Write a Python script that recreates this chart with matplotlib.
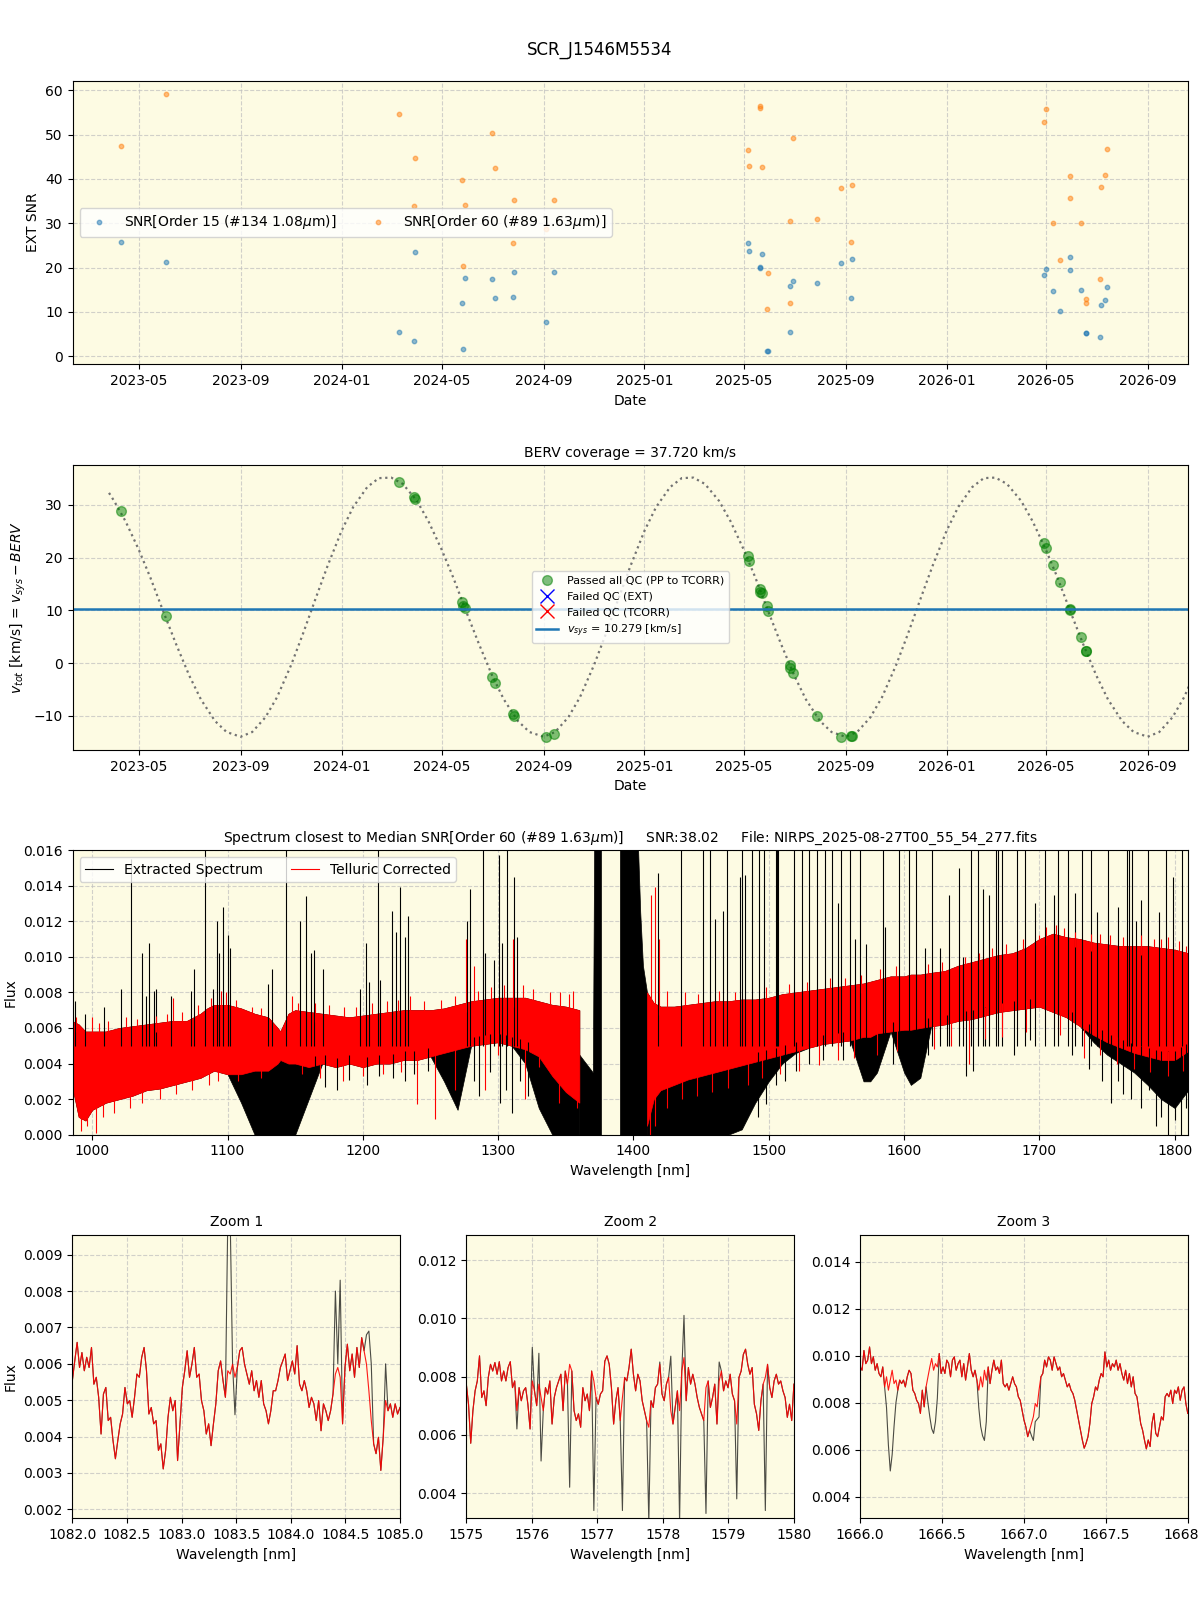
import numpy as np
import pandas as pd
import matplotlib
matplotlib.use('Agg')
import matplotlib.pyplot as plt
import matplotlib.dates as mdates
from matplotlib.ticker import MultipleLocator
from matplotlib.lines import Line2D

# ---- SNR panel ----
obs_dates = ['2023-04-09', '2023-06-03', '2024-03-10', '2024-03-29', '2024-03-30',
             '2024-05-25', '2024-05-27', '2024-05-29', '2024-07-01', '2024-07-04',
             '2024-07-26', '2024-07-27', '2024-09-04', '2024-09-14', '2025-05-06',
             '2025-05-07', '2025-05-20', '2025-05-21', '2025-05-23', '2025-05-29',
             '2025-05-30', '2025-06-26', '2025-06-26', '2025-06-30', '2025-07-28',
             '2025-08-27', '2025-09-08', '2025-09-09', '2026-04-29', '2026-05-01',
             '2026-05-09', '2026-05-18', '2026-05-30', '2026-05-30', '2026-06-13',
             '2026-06-19', '2026-06-19', '2026-07-05', '2026-07-07', '2026-07-12',
             '2026-07-14']
snr_order15 = [25.8, 21.3, 5.55, 3.3, 23.6, 11.9, 1.5, 17.7, 17.5, 13.2,
               13.4, 19.1, 7.6, 19.1, 25.6, 23.8, 20.0, 20.1, 23.1, 1.05,
               1.2, 5.55, 15.9, 17.0, 16.4, 21.1, 13.2, 22.0, 18.2, 19.7,
               14.6, 10.1, 22.4, 19.5, 15.0, 5.3, 5.1, 4.2, 11.6, 12.75,
               15.7]
snr_order60 = [47.4, 59.3, 54.6, 33.8, 44.7, 39.8, 20.4, 34.1, 50.3, 42.5,
               25.6, 35.3, 28.7, 35.3, 46.5, 42.9, 56.5, 56.0, 42.7, 10.7,
               18.8, 12.1, 30.5, 49.2, 31.0, 38.0, 25.8, 38.6, 52.8, 55.7,
               30.1, 21.8, 40.6, 35.7, 30.1, 12.8, 12.1, 17.3, 38.2, 40.9,
               46.7]

# ---- BERV panel ----
berv_dates = ['2023-04-09', '2023-06-03', '2024-03-10', '2024-03-29', '2024-03-30',
              '2024-05-25', '2024-05-27', '2024-05-29', '2024-07-01', '2024-07-04',
              '2024-07-26', '2024-07-27', '2024-09-04', '2024-09-14', '2025-05-06',
              '2025-05-07', '2025-05-20', '2025-05-21', '2025-05-23', '2025-05-29',
              '2025-05-30', '2025-06-26', '2025-06-26', '2025-06-30', '2025-07-28',
              '2025-08-27', '2025-09-08', '2025-09-09', '2026-04-29', '2026-05-01',
              '2026-05-09', '2026-05-18', '2026-05-30', '2026-05-30', '2026-06-13',
              '2026-06-19', '2026-06-19']
berv_vals = [28.9, 8.9, 34.4, 31.6, 31.2, 11.6, 10.8, 10.4, -2.6, -3.8,
             -9.7, -10.0, -14.05, -13.5, 20.3, 19.3, 14.0, 13.5, 13.2, 10.9,
             9.9, -0.3, -0.95, -1.9, -10.1, -14.05, -13.9, -13.8, 22.7, 21.8,
             18.6, 15.4, 10.3, 10.1, 4.9, 2.3, 2.2]
# curve read on the 1st/15th of each month (after a first point on 2023-03-26)
berv_curve = [32.3,
              30.8, 26.9, 21.5, 16.2, 9.2, 3.6, -2.4, -6.9, -11.0, -13.1, -14.0, -13.1,
              -10.3, -6.5, -0.4, 5.4, 12.4, 18.4,
              25.1, 29.6, 33.4, 35.1, 35.2, 34.0, 30.8, 26.9, 21.5, 16.2, 9.2, 3.6,
              -2.4, -6.9, -11.0, -13.1, -14.0, -13.1, -10.3, -6.5, -0.4, 5.4, 12.4, 18.4,
              25.1, 29.6, 33.4, 35.1, 35.2, 34.0, 30.8, 26.9, 21.5, 16.2, 9.2, 3.6,
              -2.4, -6.9, -11.0, -13.1, -14.0, -13.1, -10.3, -6.5, -0.4, 5.4, 12.4, 18.4,
              25.1, 29.6, 33.4, 35.1, 35.2, 34.0, 30.8, 26.9, 21.5, 16.2, 9.2, 3.6,
              -2.4, -6.9, -11.0, -13.1, -14.0, -13.1, -10.3, -6.5, -0.4]
v_sys = 10.279
berv_coverage = 37.720

# ---- full spectrum (envelopes) ----
wl_a = [985, 990, 995, 1000, 1010, 1020, 1030, 1040, 1050, 1060, 1070, 1080, 1085,
        1090, 1100, 1110, 1120, 1130, 1137, 1139, 1145, 1150, 1160, 1170, 1180, 1190,
        1200, 1210, 1220, 1230, 1240, 1250, 1260, 1270, 1280, 1290, 1300, 1310, 1320,
        1330, 1340, 1350, 1360]
red_hi_a = [0.0064, 0.0062, 0.0058, 0.0058, 0.0058, 0.0060, 0.0061, 0.0062, 0.0063,
            0.0064, 0.0064, 0.0068, 0.0071, 0.0073, 0.0073, 0.0071, 0.0068, 0.0066,
            0.0060, 0.0058, 0.0068, 0.0070, 0.0069, 0.0068, 0.0067, 0.0066, 0.0067,
            0.0068, 0.0069, 0.0070, 0.0070, 0.0070, 0.0071, 0.0073, 0.0075, 0.0076,
            0.0077, 0.0077, 0.0077, 0.0075, 0.0073, 0.0072, 0.0070]
red_lo_a = [0.0028, 0.0010, 0.0008, 0.0014, 0.0018, 0.0020, 0.0022, 0.0025, 0.0026,
            0.0028, 0.0030, 0.0032, 0.0034, 0.0036, 0.0034, 0.0034, 0.0036, 0.0036,
            0.0040, 0.0042, 0.0040, 0.0040, 0.0038, 0.0040, 0.0038, 0.0040, 0.0038,
            0.0040, 0.0040, 0.0042, 0.0042, 0.0044, 0.0046, 0.0048, 0.0050, 0.0051,
            0.0052, 0.0050, 0.0048, 0.0044, 0.0033, 0.0024, 0.0018]
blk_lo_a = [0.0028, 0.0010, 0.0008, 0.0014, 0.0018, 0.0020, 0.0022, 0.0025, 0.0026,
            0.0028, 0.0030, 0.0032, 0.0034, 0.0036, 0.0034, 0.0018, 0.0, 0.0,
            0.0, 0.0, 0.0, 0.0, 0.0020, 0.0040, 0.0038, 0.0040, 0.0038,
            0.0040, 0.0040, 0.0042, 0.0042, 0.0044, 0.0030, 0.0014, 0.0050, 0.0051,
            0.0052, 0.0050, 0.0040, 0.0015, 0.0, 0.0, 0.0]
wl_c = [1360, 1365, 1370, 1371, 1376]
blk_hi_c = [0.0045, 0.0040, 0.0035, 0.0170, 0.0170]
wl_d = [1390, 1403, 1405, 1407, 1410]
blk_hi_d = [0.0170, 0.0170, 0.0125, 0.0095, 0.0080]
wl_b = [1410, 1415, 1420, 1430, 1440, 1450, 1460, 1470, 1480, 1490, 1500, 1510, 1520,
        1530, 1540, 1550, 1560, 1570, 1575, 1580, 1590, 1600, 1605, 1612, 1620, 1630,
        1640, 1650, 1660, 1670, 1680, 1690, 1700, 1710, 1720, 1730, 1740, 1750, 1760,
        1770, 1780, 1790, 1800, 1810]
red_hi_b = [0.0080, 0.0074, 0.0072, 0.0072, 0.0073, 0.0074, 0.0075, 0.0075, 0.0076,
            0.0076, 0.0077, 0.0079, 0.0080, 0.0081, 0.0082, 0.0083, 0.0084, 0.0085,
            0.0086, 0.0087, 0.0089, 0.0089, 0.0090, 0.0090, 0.0091, 0.0092, 0.0095,
            0.0097, 0.0099, 0.0101, 0.0102, 0.0105, 0.0110, 0.0113, 0.0111, 0.0110,
            0.0108, 0.0107, 0.0106, 0.0106, 0.0106, 0.0105, 0.0104, 0.0102]
red_lo_b = [0.0005, 0.0020, 0.0025, 0.0028, 0.0031, 0.0033, 0.0035, 0.0037, 0.0039,
            0.0041, 0.0043, 0.0045, 0.0047, 0.0049, 0.0051, 0.0052, 0.0053, 0.0055,
            0.0055, 0.0057, 0.0058, 0.0059, 0.0059, 0.0060, 0.0061, 0.0062, 0.0064,
            0.0065, 0.0067, 0.0069, 0.0070, 0.0071, 0.0072, 0.0069, 0.0066, 0.0061,
            0.0056, 0.0052, 0.0049, 0.0046, 0.0044, 0.0042, 0.0042, 0.0047]
blk_lo_b = [0.0, 0.0, 0.0, 0.0, 0.0, 0.0, 0.0, 0.0, 0.0003, 0.0018, 0.0030, 0.0040,
            0.0046, 0.0049, 0.0051, 0.0052, 0.0053, 0.0030, 0.0030, 0.0035, 0.0058,
            0.0035, 0.0028, 0.0032, 0.0061, 0.0062, 0.0064, 0.0065, 0.0067, 0.0069,
            0.0070, 0.0071, 0.0072, 0.0069, 0.0066, 0.0061, 0.0052, 0.0045, 0.0040,
            0.0035, 0.0028, 0.0020, 0.0015, 0.0025]

# spikes of the extracted spectrum above the band (wavelength, top)
blk_spike_wl = [987.5, 994.8, 1008.4, 1021.2, 1029, 1036.9, 1039.8, 1041.9, 1045.6, 1047.4,
                1058, 1073, 1075, 1083, 1089, 1091.9, 1093.9, 1097, 1100, 1102, 1130,
                1132.6, 1143.3, 1153.2, 1157.8, 1161.9, 1164, 1170.6, 1198, 1202.3, 1204.4,
                1211.3, 1212.8, 1221.8, 1224.4, 1227.3, 1231.4, 1233.7, 1276.7, 1279, 1289,
                1290.4, 1297, 1300.6, 1302.6, 1306.7, 1312, 1314,
                1418.4, 1435.4, 1451.5, 1456.3, 1460, 1466.2, 1469.3, 1478.4, 1480.3,
                1482.3, 1487.7, 1492.8, 1496.2, 1505, 1506, 1507, 1518.5, 1524.2, 1529.6,
                1535.5, 1541.4, 1546.8, 1550.8, 1553.6, 1559.8, 1563.5, 1567.5, 1572,
                1584.2, 1585.9, 1596.6, 1603.4, 1608.8, 1615.6, 1620.9, 1626.3, 1633.1,
                1640.7, 1643.8, 1649.5, 1654.3, 1658.6, 1663.1, 1668.2, 1669.3, 1672.1,
                1683.4, 1689.7, 1696.5, 1704.4, 1710.9, 1713.7, 1720.8, 1726.5, 1731.5,
                1738.3, 1742.3, 1750.8, 1758.4, 1764.6, 1766.3, 1768.3, 1771.1, 1774.8,
                1780.5, 1788.1, 1793.2, 1798.9, 1805.4]
blk_spike_top = [0.0075, 0.0068, 0.0072, 0.0082, 0.0155, 0.0102, 0.0078, 0.0108, 0.0081, 0.0082,
                 0.0078, 0.0081, 0.0093, 0.0165, 0.0082, 0.0120, 0.0102, 0.0128, 0.0112, 0.0105, 0.0085,
                 0.0093, 0.0165, 0.0120, 0.0134, 0.0102, 0.0104, 0.0093, 0.0082, 0.0108, 0.0086,
                 0.0165, 0.0087, 0.0126, 0.0114, 0.0139, 0.0111, 0.0123, 0.0120, 0.0138, 0.0165,
                 0.0102, 0.0098, 0.0157, 0.0108, 0.0165, 0.0145, 0.0111,
                 0.0147, 0.0165, 0.0165, 0.0165, 0.0121, 0.0126, 0.0165, 0.0145, 0.0165,
                 0.0146, 0.0165, 0.0165, 0.0165, 0.0165, 0.0165, 0.0165, 0.0165, 0.0165, 0.0165,
                 0.0165, 0.0165, 0.0165, 0.0130, 0.0165, 0.0165, 0.0110, 0.0165, 0.0107,
                 0.0165, 0.0117, 0.0165, 0.0165, 0.0165, 0.0105, 0.0165, 0.0105, 0.0135,
                 0.0150, 0.0100, 0.0165, 0.0165, 0.0138, 0.0135, 0.0165, 0.0165, 0.0165,
                 0.0165, 0.0165, 0.0130, 0.0165, 0.0135, 0.0165, 0.0165, 0.0136, 0.0165,
                 0.0165, 0.0125, 0.0165, 0.0128, 0.0165, 0.0165, 0.0165, 0.0120, 0.0132,
                 0.0165, 0.0125, 0.0165, 0.0145, 0.0165]
# absorption spikes of the extracted spectrum below the band (wavelength, bottom)
blk_dip_wl = [1165, 1172, 1181, 1190, 1203, 1212, 1222, 1231, 1238, 1248, 1282, 1286,
              1294, 1301, 1306, 1310, 1316, 1322, 1492, 1498, 1505, 1512, 1520, 1530,
              1540, 1555, 1592, 1618, 1632, 1646, 1651, 1660, 1681, 1693, 1724, 1737,
              1746, 1753, 1758, 1762, 1768, 1775, 1781, 1786, 1790, 1795, 1800, 1805, 1808]
blk_dip_bottom = [0.0030, 0.0027, 0.0025, 0.0031, 0.0028, 0.0033, 0.0032, 0.0030, 0.0034,
                  0.0036, 0.0030, 0.0022, 0.0035, 0.0018, 0.0025, 0.0012, 0.0030, 0.0022,
                  0.0010, 0.0017, 0.0028, 0.0030, 0.0036, 0.0040, 0.0042, 0.0042, 0.0040,
                  0.0045, 0.0050, 0.0033, 0.0036, 0.0050, 0.0045, 0.0053, 0.0045, 0.0037,
                  0.0030, 0.0018, 0.0030, 0.0023, 0.0020, 0.0015, 0.0025, 0.0005, 0.0010,
                  0.0, 0.0008, 0.0, 0.0015]
# telluric-corrected spikes above / below the band
red_spike_wl = [988, 1000, 1005, 1012, 1025, 1033, 1047, 1055, 1060, 1066, 1078, 1088, 1095,
                1099, 1106, 1118, 1125, 1148, 1152, 1165, 1175, 1186, 1195, 1207, 1218, 1226,
                1235, 1245, 1258, 1268, 1276, 1282, 1285, 1295, 1304, 1311, 1318, 1326, 1338,
                1346, 1352, 1355, 1413, 1416, 1419, 1425, 1438, 1448, 1463, 1475, 1498, 1515,
                1528, 1545, 1556, 1568, 1582, 1594, 1618, 1628, 1645, 1655, 1665, 1675, 1688,
                1700, 1705, 1712, 1718, 1726, 1738, 1745, 1752, 1762, 1775, 1785, 1790, 1795,
                1803, 1808]
red_spike_top = [0.0066, 0.0066, 0.0063, 0.0064, 0.0066, 0.0065, 0.0067, 0.0068, 0.0077, 0.0069,
                 0.0073, 0.0077, 0.0081, 0.0080, 0.0076, 0.0072, 0.0071, 0.0078, 0.0074, 0.0074,
                 0.0073, 0.0072, 0.0072, 0.0074, 0.0075, 0.0076, 0.0078, 0.0075, 0.0076, 0.0078,
                 0.0110, 0.0095, 0.0081, 0.0083, 0.0084, 0.0110, 0.0084, 0.0082, 0.0080, 0.0080,
                 0.0079, 0.0081, 0.0135, 0.0139, 0.0110, 0.0081, 0.0080, 0.0079, 0.0081, 0.0080,
                 0.0083, 0.0085, 0.0086, 0.0088, 0.0088, 0.0090, 0.0093, 0.0095, 0.0096, 0.0097,
                 0.0100, 0.0102, 0.0105, 0.0107, 0.0110, 0.0112, 0.0117, 0.0118, 0.0116, 0.0114,
                 0.0113, 0.0113, 0.0112, 0.0111, 0.0112, 0.0110, 0.0110, 0.0111, 0.0109, 0.0106]
red_dip_wl = [992, 996, 1003, 1008, 1016, 1028, 1037, 1050, 1062, 1074, 1086, 1093, 1108,
              1115, 1125, 1155, 1168, 1185, 1200, 1215, 1228, 1240, 1253, 1268, 1290, 1300,
              1320, 1330, 1345, 1358, 1412, 1416, 1425, 1436, 1447, 1458, 1470, 1485, 1495,
              1508, 1522, 1537, 1551, 1563, 1580, 1595, 1622, 1635, 1648, 1660, 1672, 1690,
              1715, 1733, 1745, 1757, 1770, 1782, 1795, 1806]
red_dip_bottom = [0.0002, 0.0005, 0.0001, 0.0010, 0.0012, 0.0015, 0.0018, 0.0020, 0.0023,
                  0.0025, 0.0028, 0.0030, 0.0030, 0.0035, 0.0032, 0.0034, 0.0032, 0.0030,
                  0.0033, 0.0034, 0.0035, 0.0017, 0.0009, 0.0025, 0.0025, 0.0045, 0.0020,
                  0.0038, 0.0018, 0.0015, 0.0000, 0.0005, 0.0015, 0.0020, 0.0022, 0.0024,
                  0.0026, 0.0028, 0.0032, 0.0034, 0.0036, 0.0039, 0.0042, 0.0043, 0.0045,
                  0.0047, 0.0048, 0.0050, 0.0040, 0.0054, 0.0055, 0.0058, 0.0056, 0.0043,
                  0.0045, 0.0040, 0.0037, 0.0035, 0.0033, 0.0036]

# ---- zoom windows (telluric-corrected flux, evenly sampled) ----
zoom1_range = (1082.0, 1085.0)
zoom1_red = [0.00554, 0.00608, 0.00659, 0.00590, 0.00631, 0.00581, 0.00618, 0.00590, 0.00645,
             0.00544, 0.00563, 0.00508, 0.00407, 0.00517, 0.00535, 0.00444, 0.00453, 0.00389,
             0.00339, 0.00389, 0.00435, 0.00462, 0.00535, 0.00490, 0.00499, 0.00453, 0.00508,
             0.00572, 0.00563, 0.00618, 0.00645, 0.00581, 0.00462, 0.00480, 0.00435, 0.00444,
             0.00362, 0.00380, 0.00311, 0.00362, 0.00453, 0.00508, 0.00471, 0.00499, 0.00334,
             0.00435, 0.00535, 0.00581, 0.00636, 0.00563, 0.00599, 0.00645, 0.00563, 0.00572,
             0.00499, 0.00471, 0.00407, 0.00435, 0.00375, 0.00435, 0.00490, 0.00581, 0.00608,
             0.00554, 0.00508, 0.00581, 0.00572, 0.00599, 0.00563, 0.00590, 0.00636, 0.00645,
             0.00599, 0.00572, 0.00544, 0.00581, 0.00526, 0.00554, 0.00508, 0.00554, 0.00490,
             0.00471, 0.00435, 0.00471, 0.00526, 0.00526, 0.00554, 0.00590, 0.00608, 0.00627,
             0.00554, 0.00581, 0.00608, 0.00572, 0.00650, 0.00544, 0.00526, 0.00554, 0.00526,
             0.00480, 0.00508, 0.00490, 0.00444, 0.00499, 0.00416, 0.00490, 0.00471, 0.00444,
             0.00471, 0.00517, 0.00572, 0.00590, 0.00563, 0.00435, 0.00590, 0.00654, 0.00581,
             0.00627, 0.00563, 0.00645, 0.00590, 0.00672, 0.00636, 0.00599, 0.00526, 0.00444,
             0.00380, 0.00353, 0.00398, 0.00307, 0.00398, 0.00499, 0.00471, 0.00490, 0.00453,
             0.00490, 0.00462, 0.00480]
# samples where the extracted spectrum differs from the corrected one
zoom1_blk_idx = [65, 66, 68, 110, 111, 112, 123, 124, 125, 131]
zoom1_blk_val = [0.0100, 0.0100, 0.0046, 0.0080, 0.0060, 0.0083, 0.0068, 0.0069, 0.0060, 0.0060]
zoom1_ylim = (0.00175, 0.00955)

zoom2_range = (1575.0, 1580.0)
zoom2_red = [0.00774, 0.00705, 0.00571, 0.00683, 0.00751, 0.00785, 0.00871, 0.00728, 0.00751,
             0.00700, 0.00797, 0.00842, 0.00819, 0.00848, 0.00808, 0.00851, 0.00785, 0.00819,
             0.00785, 0.00831, 0.00851, 0.00762, 0.00785, 0.00683, 0.00762, 0.00717, 0.00751,
             0.00762, 0.00705, 0.00620, 0.00785, 0.00751, 0.00700, 0.00774, 0.00728, 0.00683,
             0.00762, 0.00740, 0.00785, 0.00637, 0.00728, 0.00762, 0.00785, 0.00808, 0.00683,
             0.00819, 0.00774, 0.00842, 0.00819, 0.00683, 0.00649, 0.00672, 0.00626, 0.00762,
             0.00717, 0.00740, 0.00683, 0.00819, 0.00785, 0.00728, 0.00705, 0.00740, 0.00751,
             0.00853, 0.00871, 0.00842, 0.00762, 0.00637, 0.00717, 0.00762, 0.00649, 0.00728,
             0.00797, 0.00785, 0.00831, 0.00894, 0.00808, 0.00751, 0.00808, 0.00785, 0.00717,
             0.00683, 0.00649, 0.00626, 0.00717, 0.00694, 0.00762, 0.00774, 0.00842, 0.00740,
             0.00717, 0.00774, 0.00797, 0.00683, 0.00637, 0.00694, 0.00751, 0.00683, 0.00819,
             0.00865, 0.00717, 0.00831, 0.00774, 0.00808, 0.00774, 0.00728, 0.00694, 0.00672,
             0.00649, 0.00762, 0.00785, 0.00694, 0.00728, 0.00774, 0.00637, 0.00785, 0.00819,
             0.00751, 0.00785, 0.00762, 0.00808, 0.00740, 0.00717, 0.00637, 0.00797, 0.00819,
             0.00876, 0.00894, 0.00842, 0.00808, 0.00831, 0.00705, 0.00672, 0.00615, 0.00717,
             0.00774, 0.00797, 0.00842, 0.00762, 0.00728, 0.00785, 0.00808, 0.00774, 0.00785,
             0.00751, 0.00728, 0.00660, 0.00705, 0.00649, 0.00774]
zoom2_blk_idx = [23, 30, 33, 34, 47, 58, 71, 83, 88, 93, 97, 99, 109, 115, 123, 136]
zoom2_blk_val = [0.0062, 0.0090, 0.0088, 0.0051, 0.0042, 0.0034, 0.0034, 0.0030,
                 0.0085, 0.0087, 0.0030, 0.0101, 0.0033, 0.0085, 0.0038, 0.0034]
zoom2_ylim = (0.00313, 0.01287)

zoom3_range = (1666.0, 1668.0)
zoom3_red = [0.00953, 0.00939, 0.01023, 0.00967, 0.00982, 0.01038, 0.00967, 0.00996, 0.00939,
             0.00967, 0.00925, 0.00911, 0.00953, 0.00868, 0.00911, 0.00854, 0.00897, 0.00939,
             0.00882, 0.00897, 0.00854, 0.00897, 0.00882, 0.00897, 0.00868, 0.00911, 0.00939,
             0.00925, 0.00854, 0.00840, 0.00811, 0.00797, 0.00755, 0.00854, 0.00783, 0.00868,
             0.00911, 0.00953, 0.00989, 0.00939, 0.00967, 0.00953, 0.01010, 0.00925, 0.00953,
             0.00925, 0.00982, 0.00967, 0.00911, 0.00982, 0.00996, 0.00939, 0.00967, 0.00982,
             0.00911, 0.00967, 0.00897, 0.00953, 0.01010, 0.00939, 0.00911, 0.00939, 0.00897,
             0.00854, 0.00911, 0.00868, 0.00939, 0.00897, 0.00953, 0.00882, 0.00939, 0.00982,
             0.00939, 0.00953, 0.00925, 0.00982, 0.00882, 0.00868, 0.00882, 0.00854, 0.00882,
             0.00911, 0.00882, 0.00868, 0.00826, 0.00811, 0.00769, 0.00727, 0.00698, 0.00656,
             0.00684, 0.00712, 0.00741, 0.00797, 0.00783, 0.00854, 0.00911, 0.00925, 0.00982,
             0.00953, 0.00996, 0.00982, 0.00939, 0.00996, 0.00967, 0.00939, 0.00953, 0.00911,
             0.00925, 0.00897, 0.00868, 0.00882, 0.00854, 0.00840, 0.00811, 0.00769, 0.00727,
             0.00684, 0.00642, 0.00607, 0.00628, 0.00656, 0.00712, 0.00797, 0.00826, 0.00868,
             0.00854, 0.00897, 0.00925, 0.00911, 0.01017, 0.00953, 0.00982, 0.00939, 0.00967,
             0.00953, 0.00982, 0.00939, 0.00967, 0.00925, 0.00897, 0.00939, 0.00882, 0.00925,
             0.00868, 0.00911, 0.00840, 0.00826, 0.00769, 0.00712, 0.00684, 0.00642, 0.00604,
             0.00642, 0.00614, 0.00712, 0.00755, 0.00670, 0.00656, 0.00698, 0.00741, 0.00727,
             0.00826, 0.00840, 0.00826, 0.00854, 0.00797, 0.00854, 0.00840, 0.00868, 0.00811,
             0.00854, 0.00868, 0.00797, 0.00755]
zoom3_blk_idx = [14, 15, 16, 17, 18, 19, 36, 37, 38, 39, 40, 41, 63, 64, 65, 66, 67,
                 91, 92, 93, 94, 95]
zoom3_blk_val = [0.0078, 0.0062, 0.0051, 0.0058, 0.0070, 0.0080, 0.0080, 0.0074, 0.0069,
                 0.0067, 0.0072, 0.0082, 0.0078, 0.0070, 0.0066, 0.0064, 0.0072,
                 0.0066, 0.0064, 0.0072, 0.0073, 0.0074]
zoom3_ylim = (0.00308, 0.01516)

bg = '#fdfbe3'
date_xlim = (pd.Timestamp('2023-02-10'), pd.Timestamp('2026-10-20'))


def style_axes(ax):
    ax.set_facecolor(bg)
    ax.set_axisbelow(True)
    ax.grid(True, ls='--', color='0.75', alpha=0.7)


def date_axis(ax):
    ax.xaxis.set_major_locator(mdates.MonthLocator(bymonth=[1, 5, 9]))
    ax.xaxis.set_major_formatter(mdates.DateFormatter('%Y-%m'))
    ax.set_xlim(date_xlim)
    ax.set_xlabel('Date')


fig = plt.figure(figsize=(12, 16), dpi=100)
fig.suptitle('SCR_J1546M5534', fontsize=12, y=0.9745)

# SNR
ax1 = fig.add_axes([0.0605, 0.7723, 0.9297, 0.1773])
style_axes(ax1)
d_obs = pd.to_datetime(obs_dates)
ax1.plot(d_obs, snr_order15, 'o', ms=3.2, alpha=0.5, color='C0',
         label=r'SNR[Order 15 (#134 1.08$\mu$m)]')
ax1.plot(d_obs, snr_order60, 'o', ms=3.2, alpha=0.5, color='C1',
         label=r'SNR[Order 60 (#89 1.63$\mu$m)]')
ax1.set_ylabel('EXT SNR')
ax1.legend(loc='center left', ncol=2)
date_axis(ax1)

# BERV
ax2 = fig.add_axes([0.0605, 0.5313, 0.9297, 0.1781])
style_axes(ax2)
curve_dates = pd.to_datetime(['2023-03-26']).append(
    pd.date_range('2023-04-01', '2026-11-01', freq='SMS'))
ax2.plot(curve_dates, berv_curve, ':', color='0.45', lw=1.6)
ax2.plot(pd.to_datetime(berv_dates), berv_vals, 'o', color='green', ms=7, alpha=0.5,
         label='Passed all QC (PP to TCORR)')
ax2.plot([], [], 'x', color='blue', ms=10, label='Failed QC (EXT)')
ax2.plot([], [], 'x', color='red', ms=10, label='Failed QC (TCORR)')
ax2.axhline(v_sys, color='C0', lw=1.8, label=r'$v_{sys}$ = %.3f [km/s]' % v_sys)
ax2.set_ylim(-16.5, 37.6)
ax2.set_title('BERV coverage = %.3f km/s' % berv_coverage, fontsize=10)
ax2.set_ylabel(r'$v_{tot}$ [km/s] = $v_{sys} - BERV$')
ax2.legend(loc='center', fontsize=8)
date_axis(ax2)

# full spectrum
ax3 = fig.add_axes([0.0605, 0.2908, 0.9297, 0.1779])
style_axes(ax3)
band_wl = wl_a + wl_b
band_hi = red_hi_a + red_hi_b
band_lo = red_lo_a + red_lo_b
ax3.fill_between(wl_a, blk_lo_a, red_hi_a, color='k', lw=0.5)
ax3.fill_between(wl_c, 0, blk_hi_c, color='k', lw=0.5)
ax3.fill_between(wl_d, 0, blk_hi_d, color='k', lw=0.5)
ax3.fill_between(wl_b, blk_lo_b, red_hi_b, color='k', lw=0.5)
ax3.vlines(blk_spike_wl, 0.005, blk_spike_top, color='k', lw=0.8)
ax3.vlines(blk_dip_wl, blk_dip_bottom, np.interp(blk_dip_wl, band_wl, band_lo) + 0.0005,
           color='k', lw=0.8)
ax3.fill_between(wl_a, red_lo_a, red_hi_a, color='red', lw=0.5)
ax3.fill_between(wl_b, red_lo_b, red_hi_b, color='red', lw=0.5)
ax3.vlines(red_spike_wl, np.interp(red_spike_wl, band_wl, band_hi) - 0.0005, red_spike_top,
           color='red', lw=0.8)
ax3.vlines(red_dip_wl, red_dip_bottom, np.interp(red_dip_wl, band_wl, band_lo) + 0.0005,
           color='red', lw=0.8)
ax3.set_xlim(985.5, 1810)
ax3.set_ylim(0, 0.016)
ax3.set_xlabel('Wavelength [nm]')
ax3.set_ylabel('Flux')
ax3.set_title(r'Spectrum closest to Median SNR[Order 60 (#89 1.63$\mu$m)]     SNR:38.02'
              '     File: NIRPS_2025-08-27T00_55_54_277.fits', fontsize=10)
handles = [Line2D([], [], color='k', lw=0.8), Line2D([], [], color='red', lw=0.8)]
ax3.legend(handles, ['Extracted Spectrum', 'Telluric Corrected'], loc='upper left', ncol=2)

# zooms
zooms = [
    (0.0603, zoom1_range, zoom1_red, zoom1_blk_idx, zoom1_blk_val, zoom1_ylim, 0.5),
    (0.3886, zoom2_range, zoom2_red, zoom2_blk_idx, zoom2_blk_val, zoom2_ylim, 1.0),
    (0.7168, zoom3_range, zoom3_red, zoom3_blk_idx, zoom3_blk_val, zoom3_ylim, 0.5),
]
for i, (left, wr, red, bidx, bval, yl, step) in enumerate(zooms):
    ax = fig.add_axes([left, 0.0510, 0.2730, 0.1773])
    style_axes(ax)
    x = np.linspace(wr[0], wr[1], len(red))
    extracted = np.array(red)
    extracted[bidx] = bval
    ax.plot(x, extracted, color='k', lw=0.8, alpha=0.7)
    ax.plot(x, red, color='red', lw=0.8, alpha=0.9)
    ax.set_xlim(wr)
    ax.set_ylim(yl)
    ax.xaxis.set_major_locator(MultipleLocator(step))
    ax.ticklabel_format(axis='x', useOffset=False)
    ax.set_title('Zoom %d' % (i + 1), fontsize=10)
    ax.set_xlabel('Wavelength [nm]')
    if i == 0:
        ax.set_ylabel('Flux')

fig.savefig('out.png', dpi=100)
